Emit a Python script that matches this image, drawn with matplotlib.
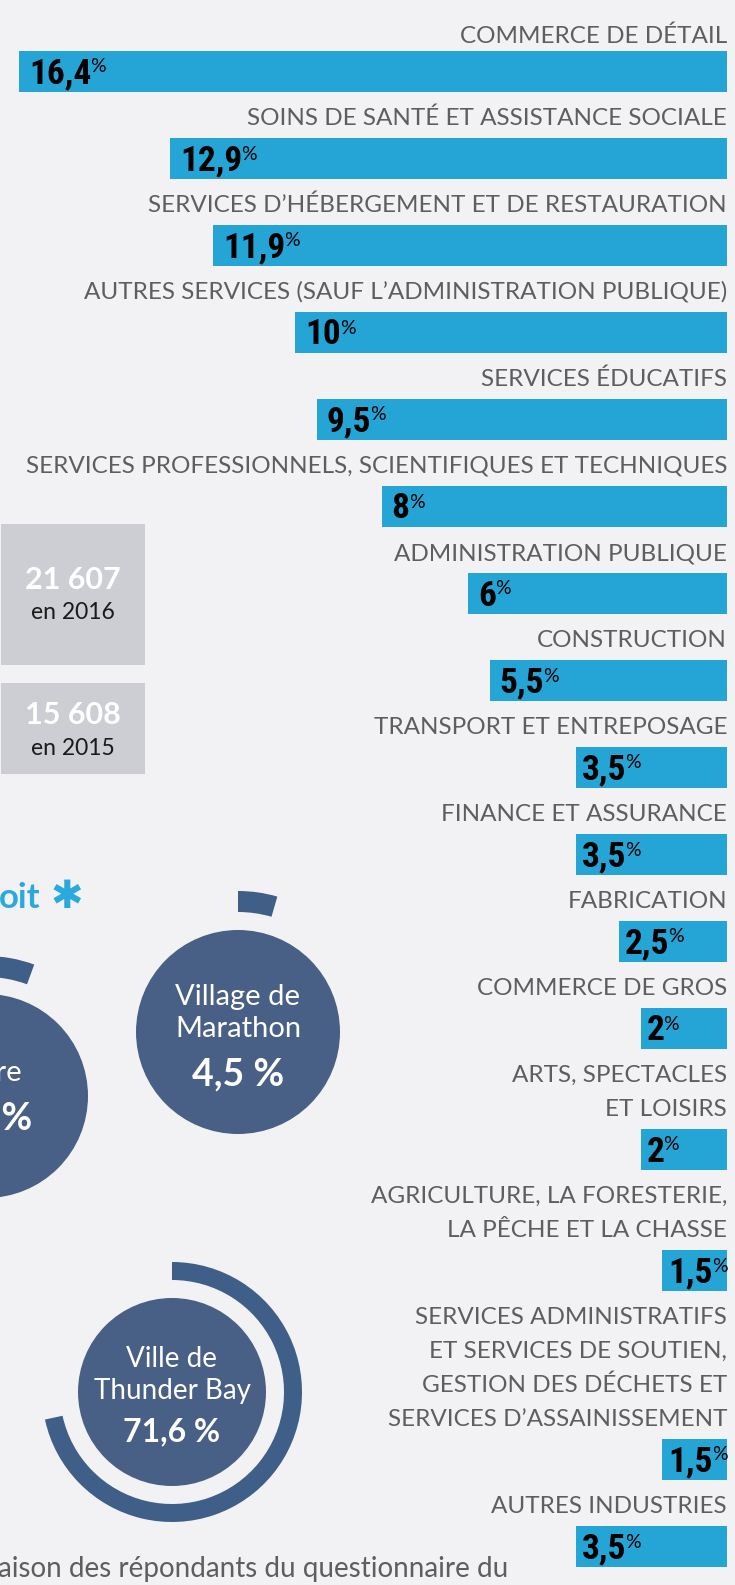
import sys
import matplotlib
matplotlib.use("Agg")
import matplotlib.pyplot as plt
from matplotlib import font_manager as fm
from matplotlib.patches import Wedge, Circle, Rectangle

# ---------------- data ----------------
categories = [
    "COMMERCE DE DÉTAIL",
    "SOINS DE SANTÉ ET ASSISTANCE SOCIALE",
    "SERVICES D’HÉBERGEMENT ET DE RESTAURATION",
    "AUTRES SERVICES (SAUF L’ADMINISTRATION PUBLIQUE)",
    "SERVICES ÉDUCATIFS",
    "SERVICES PROFESSIONNELS, SCIENTIFIQUES ET TECHNIQUES",
    "ADMINISTRATION PUBLIQUE",
    "CONSTRUCTION",
    "TRANSPORT ET ENTREPOSAGE",
    "FINANCE ET ASSURANCE",
    "FABRICATION",
    "COMMERCE DE GROS",
    "ARTS, SPECTACLES\nET LOISIRS",
    "AGRICULTURE, LA FORESTERIE,\nLA PÊCHE ET LA CHASSE",
    "SERVICES ADMINISTRATIFS\nET SERVICES DE SOUTIEN,\nGESTION DES DÉCHETS ET\nSERVICES D’ASSAINISSEMENT",
    "AUTRES INDUSTRIES",
]
values = [16.4, 12.9, 11.9, 10, 9.5, 8, 6, 5.5, 3.5, 3.5, 2.5, 2, 2, 1.5, 1.5, 3.5]
value_labels = ["16,4", "12,9", "11,9", "10", "9,5", "8", "6", "5,5",
                "3,5", "3,5", "2,5", "2", "2", "1,5", "1,5", "3,5"]

total_numbers = ["21 607", "15 608"]
total_years = ["en 2016", "en 2015"]

places = ["Autre", "Village de\nMarathon", "Ville de\nThunder Bay"]
place_shares = [5.6, 4.5, 71.6]
place_labels = ["5,6 %", "4,5 %", "71,6 %"]

heading = "oit"
footnote = "aison des répondants du questionnaire du"

# ---------------- fonts ----------------
ttf = fm.fontManager.ttflist
avail = {f.name for f in ttf}
cond_name, cond_stretch = None, "normal"
for nm in ["Roboto Condensed", "Liberation Sans Narrow", "Open Sans Condensed",
           "Noto Sans Condensed", "DejaVu Sans Condensed"]:
    if nm in avail:
        cond_name = nm
        break
if cond_name is None:
    for f in ttf:
        if str(f.stretch) in ("condensed", "semi-condensed", "extra-condensed") and \
                f.name in ("DejaVu Sans", "Noto Sans", "Roboto", "Open Sans"):
            cond_name, cond_stretch = f.name, f.stretch
            break
if cond_name is None:
    cond_name = "Roboto"
print("condensed font:", cond_name, cond_stretch, file=sys.stderr)
NUMFONT = dict(family=[cond_name, "DejaVu Sans"], fontstretch=cond_stretch, fontweight="bold")

# ---------------- style ----------------
W, H = 735, 1585
BG = "#f2f2f4"
BAR = "#25a4d6"
LBL = "#5e5e5e"
CIRC = "#485f86"
RING = "#3f5e88"
BOX = "#cdced3"
BLUE = "#29a9dc"
SANS = ["Lato", "DejaVu Sans"]

fig = plt.figure(figsize=(W / 100, H / 100), dpi=100, facecolor=BG)

bg = fig.add_axes([0, 0, 1, 1])
bg.set_xlim(0, W)
bg.set_ylim(H, 0)
bg.axis("off")
bg.set_facecolor(BG)

# ---------------- bar chart ----------------
x_left, x_right = 19, 727
bx = fig.add_axes([x_left / W, 0, (x_right - x_left) / W, 1])
bx.set_xlim(max(values), 0)
bx.set_ylim(H, 0)
bx.axis("off")
bx.patch.set_alpha(0)

BAR_H, PITCH, LINE, TOP0, LBL_GAP = 41, 87, 34, 51, 22
tops = []
y = TOP0
for i, lab in enumerate(categories):
    n = lab.count("\n") + 1
    if i > 0:
        y += PITCH + LINE * (n - 1)
    tops.append(y)
centers = [t + BAR_H / 2 for t in tops]

bx.barh(centers, values, height=BAR_H, left=0, color=BAR, linewidth=0)

for i, (lab, top, c, v, vl) in enumerate(zip(categories, tops, centers, values, value_labels)):
    lines = lab.split("\n")
    n = len(lines)
    gap = LBL_GAP - 5 if i == 0 else LBL_GAP
    for j, ln in enumerate(lines):
        yc = top - gap - (n - 1 - j) * LINE
        bx.text(0, yc + 9, ln, ha="right", va="baseline", fontsize=17.5,
                color=LBL, family=SANS)
    pad = 10 if v >= 5 else 6
    t = bx.annotate(vl, xy=(v, c), xycoords="data", xytext=(pad, -12),
                    textcoords="offset pixels", ha="left", va="baseline",
                    fontsize=25.5, color="black", **NUMFONT)
    bx.annotate("%", xy=(1, 1), xycoords=t, xytext=(-1, -1),
                textcoords="offset pixels", ha="left", va="top",
                fontsize=14, family=SANS, color="black")

# ---------------- total boxes ----------------
boxes = [(1, 524, 144, 141), (1, 683, 144, 91)]
for (x0, y0, bw, bh) in boxes:
    bg.add_patch(Rectangle((x0, y0), bw, bh, color=BOX, linewidth=0))
cx_box = 73
num_y = [577, 712]
yr_y = [610, 746]
for num, yr, ny, yy in zip(total_numbers, total_years, num_y, yr_y):
    bg.text(cx_box, ny + 12, num, ha="center", va="baseline", fontsize=22,
            fontweight="bold", color="white", family=SANS)
    bg.text(cx_box, yy + 9, yr, ha="center", va="baseline", fontsize=16.5,
            color="#1a1a1a", family=SANS)

# ---------------- heading ----------------
bg.text(-1, 908, heading, ha="left", va="baseline", fontsize=25, fontweight="bold",
        color=BLUE, family=SANS)
bg.text(67, 897, "✱", ha="center", va="center", fontsize=28, fontweight="bold",
        color=BLUE, family=["DejaVu Sans"])

# ---------------- place circles ----------------
geoms = [  # (cx, cy, circle r, ring outer r, ring width, name y, value baseline, name fs, value fs)
    (-14, 1096, 102, 140, 21, 1073, 1129, 21, 27),
    (238, 1032, 102, 141, 21, 1013, 1085, 21, 27),
    (172, 1392, 94, 130, 18, 1375, 1441, 20, 23),
]
for name, share, plab, g in zip(places, place_shares, place_labels, geoms):
    cx, cy, r, ro, rw, ny, vy, nfs, vfs = g
    sweep = share / 100 * 360
    bg.add_patch(Wedge((cx, cy), ro, -90, -90 + sweep, width=rw, color=RING, linewidth=0))
    bg.add_patch(Circle((cx, cy), r, color=CIRC, linewidth=0))
    bg.text(cx, ny, name, ha="center", va="center", fontsize=nfs, color="white",
            linespacing=1.3, family=SANS)
    bg.text(cx, vy, plab, ha="center", va="baseline", fontsize=vfs, fontweight="bold",
            color="white", family=SANS)

# ---------------- footnote ----------------
bg.text(-2, 1577, footnote, ha="left", va="baseline", fontsize=20, color=LBL,
        family=SANS)

fig.savefig("out.png", dpi=100, facecolor=BG)
